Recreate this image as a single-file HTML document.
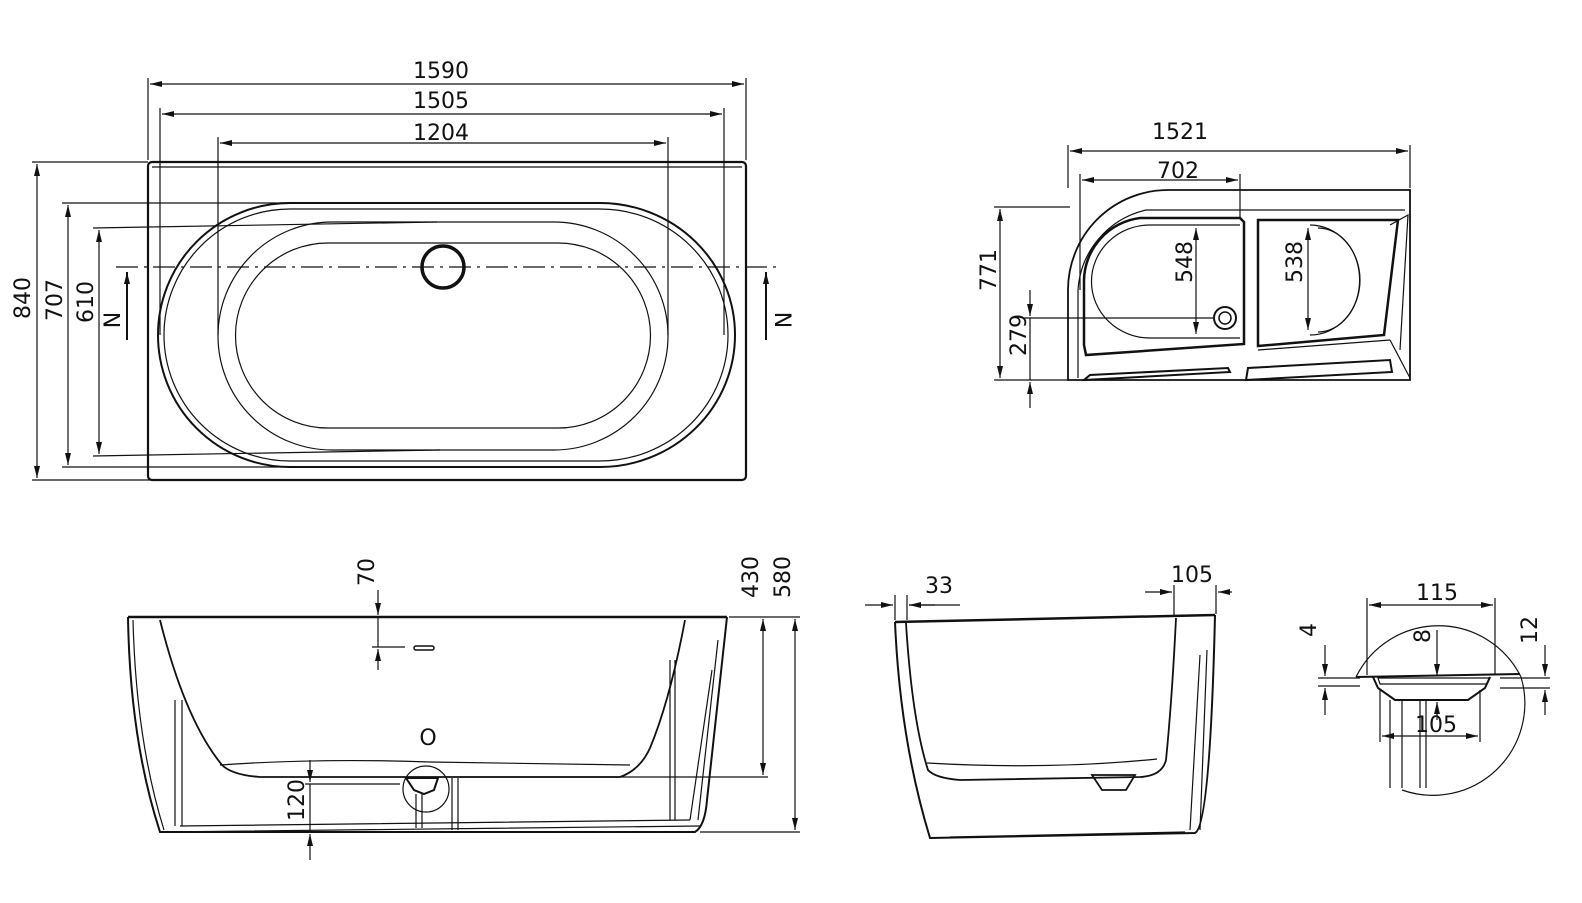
<!DOCTYPE html>
<html><head><meta charset="utf-8"><style>
html,body{margin:0;padding:0;background:#fff;}
svg{display:block;}
text{font-family:"DejaVu Sans","Liberation Sans",sans-serif;font-size:22px;fill:#111;}
</style></head><body>
<svg width="1582" height="903" viewBox="0 0 1582 903" xmlns="http://www.w3.org/2000/svg">
<defs>
<marker id="a" viewBox="0 0 12 6" refX="12" refY="3" markerWidth="12" markerHeight="6" orient="auto-start-reverse" markerUnits="userSpaceOnUse"><path d="M0,0L12,3L0,6z" fill="#111"/></marker>
</defs>
<g fill="none" stroke="#111" stroke-width="1.2">
<!-- TOP VIEW -->
<rect x="148" y="162" width="598" height="318" rx="4" stroke-width="2.2"/>
<line x1="152" y1="167" x2="742" y2="167"/>
<path d="M290,203 L600,203 A135,132 0 0 1 600,467 L290,467 A132,132 0 0 1 290,203Z" stroke-width="2"/>
<path d="M290,209 L600,209 A128,126 0 0 1 600,461 L290,461 A126,126 0 0 1 290,209Z"/>
<path d="M332,222 L554,222 A114,114 0 0 1 554,450 L332,450 A114,114 0 0 1 332,222Z"/>
<path d="M328,243 L558,243 A92,92 0 0 1 558,428 L328,428 A92,92 0 0 1 328,243Z"/>
<circle cx="443" cy="267" r="21" stroke-width="3.5"/>
<line x1="116" y1="267" x2="780" y2="267" stroke-dasharray="22,6,3,6"/>
<line x1="148" y1="160" x2="148" y2="78"/><line x1="746" y1="160" x2="746" y2="78"/>
<line x1="150" y1="84" x2="744" y2="84" marker-start="url(#a)" marker-end="url(#a)"/>
<line x1="160" y1="335" x2="160" y2="108"/><line x1="724" y1="335" x2="724" y2="108"/>
<line x1="162" y1="114" x2="722" y2="114" marker-start="url(#a)" marker-end="url(#a)"/>
<line x1="218" y1="335" x2="218" y2="137"/><line x1="668" y1="335" x2="668" y2="137"/>
<line x1="220" y1="143" x2="666" y2="143" marker-start="url(#a)" marker-end="url(#a)"/>
<line x1="32" y1="162" x2="148" y2="162"/><line x1="32" y1="480" x2="280" y2="480"/>
<line x1="37" y1="164" x2="37" y2="478" marker-start="url(#a)" marker-end="url(#a)"/>
<line x1="62" y1="203" x2="290" y2="203"/><line x1="62" y1="467" x2="290" y2="467"/>
<line x1="68" y1="205" x2="68" y2="465" marker-start="url(#a)" marker-end="url(#a)"/>
<line x1="93" y1="228" x2="437" y2="222"/><line x1="93" y1="456" x2="440" y2="450"/>
<line x1="99" y1="230" x2="99" y2="454" marker-start="url(#a)" marker-end="url(#a)"/>
<line x1="127" y1="340" x2="127" y2="272" marker-end="url(#a)" stroke-width="2"/>
<line x1="766" y1="340" x2="766" y2="272" marker-end="url(#a)" stroke-width="2"/>

<!-- TOP RIGHT VIEW -->
<path d="M1068,380 L1068,290 A100,100 0 0 1 1168,190 L1410,190 L1410,380 Z" stroke-width="1.8"/>
<path d="M1078,378 L1078,290 A88,88 0 0 1 1146,210 L1405,210"/>
<path d="M1084,345 L1084,280 A64,64 0 0 1 1140,218 L1240,218 L1244,222 L1244,344 L1086,355 Z" stroke-width="2.5"/>
<path d="M1240,225 L1150,225 A58,56 0 0 0 1150,338 L1240,338"/>
<path d="M1258,220 L1398,220 L1384,335 L1258,346 Z" stroke-width="2.5"/>
<path d="M1310,225 A50,55 0 0 1 1310,335"/><path d="M1318,228 A40,50 0 0 1 1318,332"/>
<path d="M1390,225 L1408,215 L1400,350"/>
<path d="M1084,380 L1230,372 L1228,368 L1090,375Z" stroke-width="2"/>
<path d="M1246,380 L1392,372 L1390,360 L1248,368Z" stroke-width="2"/>
<line x1="1258" y1="350" x2="1390" y2="340"/><line x1="1390" y1="340" x2="1410" y2="378"/>
<circle cx="1225" cy="318" r="11" stroke-width="2"/><circle cx="1225" cy="318" r="6" stroke-width="1.5"/>
<line x1="1068" y1="188" x2="1068" y2="145"/><line x1="1410" y1="188" x2="1410" y2="145"/>
<line x1="1070" y1="151" x2="1408" y2="151" marker-start="url(#a)" marker-end="url(#a)"/>
<line x1="1080" y1="290" x2="1080" y2="174"/><line x1="1240" y1="218" x2="1240" y2="174"/>
<line x1="1082" y1="180" x2="1238" y2="180" marker-start="url(#a)" marker-end="url(#a)"/>
<line x1="994" y1="207" x2="1070" y2="207"/><line x1="994" y1="380" x2="1068" y2="380"/>
<line x1="1000" y1="209" x2="1000" y2="378" marker-start="url(#a)" marker-end="url(#a)"/>
<line x1="1024" y1="318" x2="1214" y2="318"/>
<line x1="1030" y1="290" x2="1030" y2="316" marker-end="url(#a)"/>
<line x1="1030" y1="408" x2="1030" y2="382" marker-end="url(#a)"/>
<line x1="1030" y1="318" x2="1030" y2="380"/>
<line x1="1196" y1="228" x2="1196" y2="334" marker-start="url(#a)" marker-end="url(#a)"/>
<line x1="1308" y1="228" x2="1308" y2="330" marker-start="url(#a)" marker-end="url(#a)"/>

<!-- FRONT VIEW -->
<line x1="128" y1="617" x2="727" y2="617" stroke-width="2.5"/>
<path d="M128,617 Q130,740 160,832 L695,832 Q705,826 707,800 L727,617" stroke-width="2"/>
<path d="M133,620 Q136,740 164,830"/>
<path d="M160,620 Q185,720 222,765 Q232,775 260,777 L620,777 Q640,770 650,748 Q670,700 685,620" stroke-width="1.8"/>
<path d="M220,765 Q320,758 430,762 L630,765"/>
<path d="M175,700 L175,826 M182,700 L182,826 M675,660 L675,820 M670,660 L670,820"/>
<path d="M180,826 L690,820 M160,832 L700,826"/>
<path d="M712,670 L690,820 M718,640 L698,820"/>
<path d="M406,778 L438,778 L434,790 L424,794 L414,790 Z" stroke-width="2"/>
<path d="M416,794 L416,828 M422,794 L422,828"/>
<circle cx="426" cy="789" r="23"/>
<path d="M452,778 L452,830 M458,778 L458,830"/>
<rect x="414" y="646" width="20" height="4" rx="2" stroke-width="1.5"/>
<line x1="372" y1="647" x2="405" y2="647"/>
<line x1="378" y1="590" x2="378" y2="615" marker-end="url(#a)"/>
<line x1="378" y1="670" x2="378" y2="649" marker-end="url(#a)"/>
<line x1="378" y1="617" x2="378" y2="647"/>
<line x1="729" y1="617" x2="800" y2="617"/><line x1="460" y1="777" x2="768" y2="777"/><line x1="700" y1="832" x2="800" y2="832"/>
<line x1="763" y1="619" x2="763" y2="775" marker-start="url(#a)" marker-end="url(#a)"/>
<line x1="795" y1="619" x2="795" y2="830" marker-start="url(#a)" marker-end="url(#a)"/>
<line x1="305" y1="784" x2="400" y2="784"/>
<line x1="310" y1="760" x2="310" y2="782" marker-end="url(#a)"/>
<line x1="310" y1="860" x2="310" y2="834" marker-end="url(#a)"/>
<line x1="310" y1="784" x2="310" y2="832"/>

<!-- SIDE VIEW -->
<line x1="895" y1="622" x2="1215" y2="615" stroke-width="2.5"/>
<path d="M895,622 Q900,740 930,838 L1195,833 Q1210,826 1215,615" stroke-width="2"/>
<path d="M906,623 Q912,720 928,770 Q935,778 960,780 L1140,777 Q1162,776 1166,760 Q1172,700 1176,618" stroke-width="1.8"/>
<path d="M927,763 Q1050,770 1157,759"/>
<path d="M1092,775 L1135,775 L1126,790 L1102,790 Z" stroke-width="1.8"/>
<path d="M950,837 L1185,832 M1200,655 L1190,830 M1207,650 L1200,830"/>
<line x1="895" y1="620" x2="895" y2="595"/><line x1="907" y1="620" x2="907" y2="595"/>
<line x1="865" y1="605" x2="893" y2="605" marker-end="url(#a)"/>
<line x1="935" y1="605" x2="909" y2="605" marker-end="url(#a)"/>
<line x1="909" y1="605" x2="960" y2="605"/>
<line x1="1174" y1="615" x2="1174" y2="585"/><line x1="1216" y1="614" x2="1216" y2="585"/>
<line x1="1145" y1="592" x2="1172" y2="592" marker-end="url(#a)"/>
<line x1="1232" y1="592" x2="1218" y2="592" marker-end="url(#a)"/>

<!-- DETAIL -->
<path d="M1356,677 A92,92 0 0 1 1521,677"/>
<path d="M1521,677 A92,92 0 0 1 1402,790"/>
<line x1="1356" y1="677" x2="1520" y2="674" stroke-width="2"/>
<path d="M1373,677 L1378,688 L1395,700 L1468,700 L1485,688 L1490,677" stroke-width="2"/>
<path d="M1378,678 L1490,678 L1487,684 L1380,684Z"/>
<path d="M1390,700 L1390,788 M1402,700 L1402,788 M1420,700 L1420,788 M1426,700 L1426,788"/>
<line x1="1367" y1="675" x2="1367" y2="598"/><line x1="1495" y1="675" x2="1495" y2="598"/>
<line x1="1369" y1="605" x2="1493" y2="605" marker-start="url(#a)" marker-end="url(#a)"/>
<line x1="1380" y1="690" x2="1380" y2="742"/><line x1="1480" y1="690" x2="1480" y2="742"/>
<line x1="1382" y1="736" x2="1478" y2="736" marker-start="url(#a)" marker-end="url(#a)"/>
<line x1="1318" y1="678" x2="1360" y2="678"/><line x1="1318" y1="686" x2="1360" y2="686"/>
<line x1="1325" y1="645" x2="1325" y2="676" marker-end="url(#a)"/>
<line x1="1325" y1="715" x2="1325" y2="688" marker-end="url(#a)"/>
<line x1="1437" y1="630" x2="1437" y2="676" marker-end="url(#a)"/>
<line x1="1437" y1="720" x2="1437" y2="702" marker-end="url(#a)"/>
<line x1="1500" y1="678" x2="1550" y2="678"/><line x1="1500" y1="688" x2="1550" y2="688"/>
<line x1="1545" y1="645" x2="1545" y2="676" marker-end="url(#a)"/>
<line x1="1545" y1="715" x2="1545" y2="690" marker-end="url(#a)"/>
</g>
<g>
<text x="441" y="78" text-anchor="middle">1590</text>
<text x="441" y="108" text-anchor="middle">1505</text>
<text x="441" y="140" text-anchor="middle">1204</text>
<text transform="translate(30,298) rotate(-90)" text-anchor="middle">840</text>
<text transform="translate(62,300) rotate(-90)" text-anchor="middle">707</text>
<text transform="translate(93,302) rotate(-90)" text-anchor="middle">610</text>
<text transform="translate(120,320) rotate(-90)" text-anchor="middle">N</text>
<text transform="translate(775,320) rotate(90)" text-anchor="middle">N</text>
<text x="1180" y="139" text-anchor="middle">1521</text>
<text x="1178" y="178" text-anchor="middle">702</text>
<text transform="translate(996,270) rotate(-90)" text-anchor="middle">771</text>
<text transform="translate(1026,335) rotate(-90)" text-anchor="middle">279</text>
<text transform="translate(1192,262) rotate(-90)" text-anchor="middle">548</text>
<text transform="translate(1302,262) rotate(-90)" text-anchor="middle">538</text>
<text transform="translate(374,572) rotate(-90)" text-anchor="middle">70</text>
<text transform="translate(758,577) rotate(-90)" text-anchor="middle">430</text>
<text transform="translate(790,577) rotate(-90)" text-anchor="middle">580</text>
<text x="428" y="745" text-anchor="middle">O</text>
<text transform="translate(304,800) rotate(-90)" text-anchor="middle">120</text>
<text x="939" y="593" text-anchor="middle">33</text>
<text x="1192" y="582" text-anchor="middle">105</text>
<text x="1437" y="600" text-anchor="middle">115</text>
<text x="1436" y="732" text-anchor="middle">105</text>
<text transform="translate(1316,630) rotate(-90)" text-anchor="middle">4</text>
<text transform="translate(1430,636) rotate(-90)" text-anchor="middle">8</text>
<text transform="translate(1537,630) rotate(-90)" text-anchor="middle">12</text>
</g>
</svg>
</body></html>
